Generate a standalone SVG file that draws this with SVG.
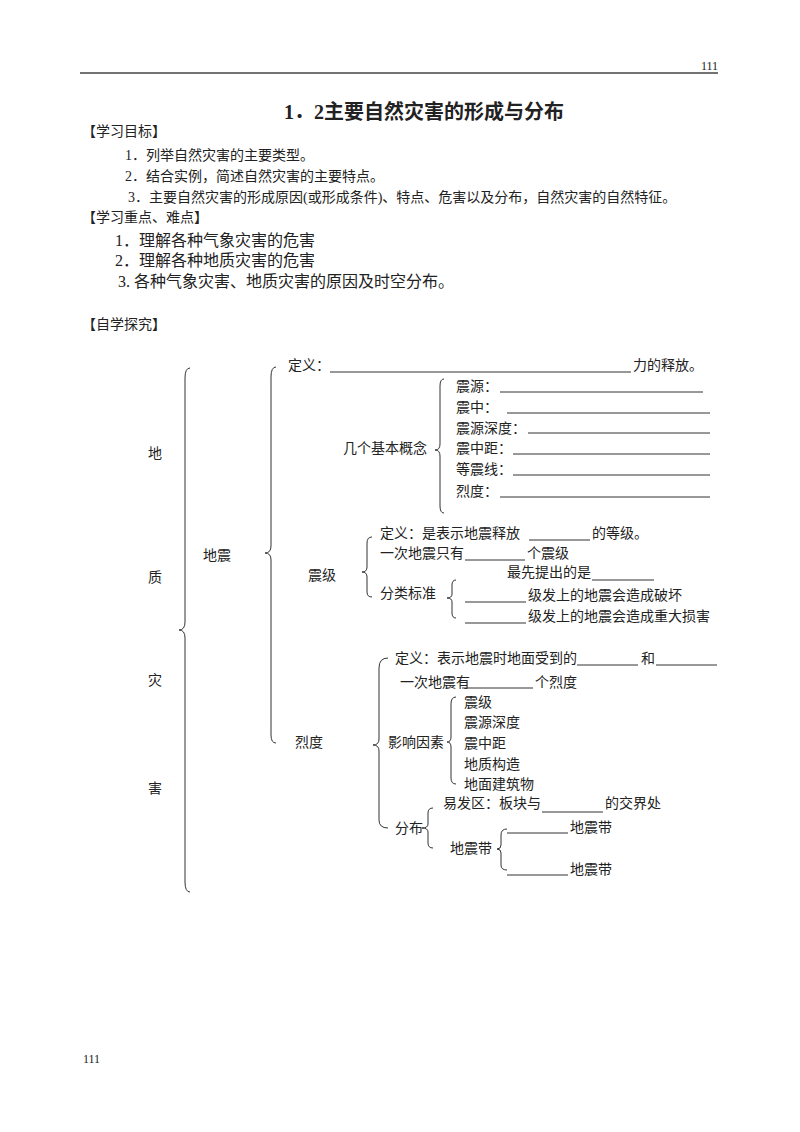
<svg xmlns="http://www.w3.org/2000/svg" width="800" height="1132" viewBox="0 0 800 1132">
<style>
text{font-family:"Liberation Serif","Noto Sans CJK SC",serif;font-size:14px;fill:#222}
.s{font-size:12px}
.m{font-size:16px}
.t{font-size:20px;font-weight:bold}
.b{stroke:#333;stroke-width:1;fill:none}
.u{stroke:#333;stroke-width:1}
</style>
<rect width="800" height="1132" fill="#fff"/>
<g id="header">
<text class="s" x="718" y="70" text-anchor="end">111</text>
<line x1="80" y1="73" x2="718" y2="73" stroke="#444" stroke-width="1.5"/>
<text class="t" x="284" y="119">1．2主要自然灾害的形成与分布</text>
</g>
<g id="goals">
<text x="82" y="136">【学习目标】</text>
<text x="125" y="160">1．列举自然灾害的主要类型。</text>
<text x="125" y="181">2．结合实例，简述自然灾害的主要特点。</text>
<text x="128" y="202">3．主要自然灾害的形成原因(或形成条件)、特点、危害以及分布，自然灾害的自然特征。</text>
<text x="82" y="222">【学习重点、难点】</text>
<text class="m" x="115" y="246">1．理解各种气象灾害的危害</text>
<text class="m" x="115" y="266">2．理解各种地质灾害的危害</text>
<text class="m" x="118" y="287">3. 各种气象灾害、地质灾害的原因及时空分布。</text>
<text x="82" y="329">【自学探究】</text>
</g>
<g id="connectors">
<path class="b" d="M190,368 Q185,368 185,378 L185,622 Q185,630 179,630 Q185,630 185,638 L185,882 Q185,892 190,892"/>
<path class="b" d="M276,367 Q271,367 271,377 L271,546 Q271,553 265,553 Q271,553 271,560 L271,735 Q271,743 276,743"/>
<path class="b" d="M444,379 Q440,379 440,386 L440,444 Q440,450 435,450 Q440,450 440,456 L440,506 Q440,513 444,513"/>
<path class="b" d="M372,537 Q367,537 367,543 L367,567 Q367,572 362,572 Q367,572 367,577 L367,592 Q367,597 372,597"/>
<path class="b" d="M456,580 Q452,580 452,585 L452,594 Q452,598 447,598 Q452,598 452,602 L452,613 Q452,618 456,618"/>
<path class="b" d="M388,658 Q379,658 379,668 L379,739 Q379,745 373,745 Q379,745 379,751 L379,820 Q379,828 388,828"/>
<path class="b" d="M456,697 Q451,697 451,704 L451,737 Q451,742 447,742 Q451,742 451,747 L451,778 Q451,784 456,784"/>
<path class="b" d="M433,808 Q428,808 428,813 L428,824 Q428,828 422,828 Q428,828 428,832 L428,843 Q428,848 433,848"/>
<path class="b" d="M507,829 Q501,829 501,835 L501,845 Q501,849 497,849 Q501,849 501,853 L501,865 Q501,870 507,870"/>
</g>
<g id="root">
<text x="148" y="458">地</text>
<text x="148" y="582">质</text>
<text x="148" y="685">灾</text>
<text x="148" y="793">害</text>
</g>
<g id="dizhen">
<text x="203" y="560">地震</text>
</g>
<g id="dingyi">
<text x="288" y="370">定义：</text>
<line class="u" x1="330" y1="372" x2="631" y2="372"/>
<text x="633" y="370">力的释放。</text>
</g>
<g id="gainian">
<text x="343" y="453">几个基本概念</text>
</g>
<g id="gainian-items">
<text x="456" y="391">震源：</text><line class="u" x1="500" y1="392" x2="703" y2="392"/>
<text x="456" y="412">震中：</text><line class="u" x1="507" y1="413" x2="710" y2="413"/>
<text x="456" y="433">震源深度：</text><line class="u" x1="528" y1="433" x2="710" y2="433"/>
<text x="456" y="453">震中距：</text><line class="u" x1="513" y1="454" x2="710" y2="454"/>
<text x="456" y="474">等震线：</text><line class="u" x1="513" y1="475" x2="710" y2="475"/>
<text x="456" y="496">烈度：</text><line class="u" x1="500" y1="497" x2="710" y2="497"/>
</g>
<g id="zhenji">
<text x="308" y="580">震级</text>
</g>
<g id="zhenji-items">
<text x="380" y="538">定义：是表示地震释放</text><line class="u" x1="529" y1="540" x2="590" y2="540"/><text x="592" y="538">的等级。</text>
<text x="380" y="558">一次地震只有</text><line class="u" x1="465" y1="560" x2="525" y2="560"/><text x="527" y="558">个震级</text>
<text x="380" y="598">分类标准</text>
</g>
<g id="fenlei-items">
<text x="507" y="577">最先提出的是</text><line class="u" x1="592" y1="580" x2="654" y2="580"/>
<line class="u" x1="465" y1="602" x2="526" y2="602"/><text x="528" y="600">级发上的地震会造成破坏</text>
<line class="u" x1="465" y1="623" x2="526" y2="623"/><text x="528" y="621">级发上的地震会造成重大损害</text>
</g>
<g id="liedu">
<text x="295" y="747">烈度</text>
</g>
<g id="liedu-items">
<text x="395" y="663">定义：表示地震时地面受到的</text><line class="u" x1="577" y1="665" x2="638" y2="665"/><text x="641" y="663">和</text><line class="u" x1="656" y1="665" x2="717" y2="665"/>
<text x="400" y="687">一次地震有</text><line class="u" x1="462" y1="688" x2="533" y2="688"/><text x="535" y="687">个烈度</text>
<text x="388" y="747">影响因素</text>
<text x="395" y="833">分布</text>
</g>
<g id="yingxiang-items">
<text x="464" y="707">震级</text>
<text x="464" y="727">震源深度</text>
<text x="464" y="748">震中距</text>
<text x="464" y="769">地质构造</text>
<text x="464" y="789">地面建筑物</text>
</g>
<g id="fenbu-items">
<text x="443" y="808">易发区：板块与</text><line class="u" x1="542" y1="812" x2="603" y2="812"/><text x="605" y="808">的交界处</text>
<text x="450" y="853">地震带</text>
</g>
<g id="dizhendai-items">
<line class="u" x1="507" y1="833" x2="568" y2="833"/><text x="570" y="832">地震带</text>
<line class="u" x1="507" y1="875" x2="568" y2="875"/><text x="570" y="874">地震带</text>
</g>
<g id="footer">
<text class="s" x="83" y="1063">111</text>
</g>
</svg>
